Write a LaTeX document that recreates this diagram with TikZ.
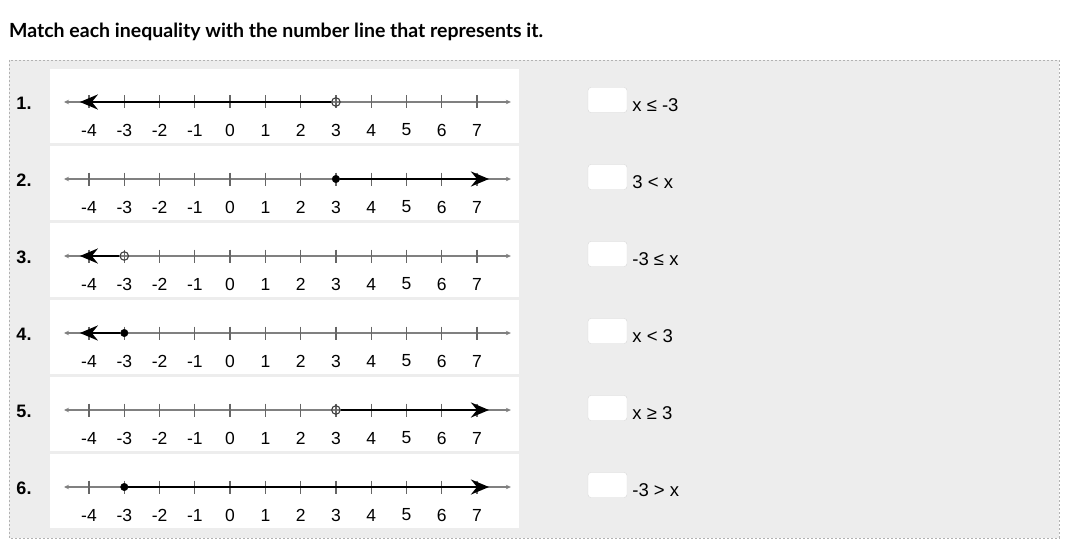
\documentclass[tikz,border=0pt]{standalone}
\usepackage{fontspec}
\setmainfont{Liberation Sans}
\newfontfamily\headfont{Lato}
\usetikzlibrary{arrows.meta,positioning}

\begin{document}
\begin{tikzpicture}[x=1pt,y=-1pt,
  axis/.style={draw=black!50, line width=1.2pt, {Stealth[length=5pt,width=4.5pt]}-{Stealth[length=5pt,width=4.5pt]}},
  tick/.style={draw=black!60, line width=1.3pt},
  ray/.style={draw=black, line width=2.7pt, -{Stealth[length=18pt,width=15pt,inset=6pt]}},
  fullpt/.style={circle, fill=black, draw=black, minimum size=7.5pt, inner sep=0pt},
  openpt/.style={circle, draw=black!75, line width=1.1pt, minimum size=8.5pt, inner sep=0pt},
  numlab/.style={font=\fontsize{17.5}{20}\selectfont, inner sep=0pt},
  rowlab/.style={font=\fontsize{18}{20}\selectfont\bfseries, inner sep=0pt},
  ansbox/.style={draw=black!15, fill=white, rounded corners=3pt, minimum width=39pt, minimum height=25pt, inner sep=0pt},
  anstext/.style={font=\fontsize{18.5}{20}\selectfont, inner sep=0pt, anchor=west}]
\useasboundingbox (0,0) rectangle (1091,559);
\fill[white] (0,0) rectangle (1091,559);
\node[font=\headfont\fontsize{19.5}{22}\selectfont\bfseries, anchor=west, inner sep=0pt] (title) at (9,32) {Match each inequality with the number line that represents it.};
\draw[fill=black!7, draw=black!30, dash pattern=on 2pt off 2pt] (9,60) rectangle (1059,538);
\foreach \r/\yy/\v/\e/\kind in {1/102/3/-4.26/openpt, 2/179/3/7.34/fullpt, 3/256/-3/-4.26/openpt, 4/333/-3/-4.26/fullpt, 5/410/3/7.34/openpt, 6/487/-3/7.34/fullpt}{
  \fill[white] (50,\yy-33) rectangle (519,\yy+41);
  \node[rowlab] (R\r) at (24,\yy+1) {\r.};
  \coordinate (R\r a) at ({230.1+35.27*(-4.71)},\yy);
  \coordinate (R\r b) at ({230.1+35.27*7.96},\yy);
  \coordinate (R\r e) at ({230.1+35.27*\e},\yy);
  \draw[axis] (R\r a) -- (R\r b);
  \foreach \n in {-4,...,7}{
    \draw[tick] ({230.1+35.27*\n},\yy-6.5) -- ({230.1+35.27*\n},\yy+6.5);
    \node[numlab] (R\r N\n) at ({230.1+35.27*\n},\yy+28) {\n};
  }
  \node[\kind] (R\r p) at ({230.1+35.27*\v},\yy) {};
  \draw[ray] (R\r p) -- (R\r e);
}
\foreach \r/\yy/\t in {1/102/{x ≤ -3}, 2/179/{3 < x}, 3/256/{-3 ≤ x}, 4/333/{x < 3}, 5/410/{x ≥ 3}, 6/487/{-3 > x}}{
  \node[ansbox] (B\r) at (607.5,\yy-2) {};
  \node[anstext] (A\r) at ([shift={(5,5)}]B\r.east) {\t};
}
\end{tikzpicture}
\end{document}
